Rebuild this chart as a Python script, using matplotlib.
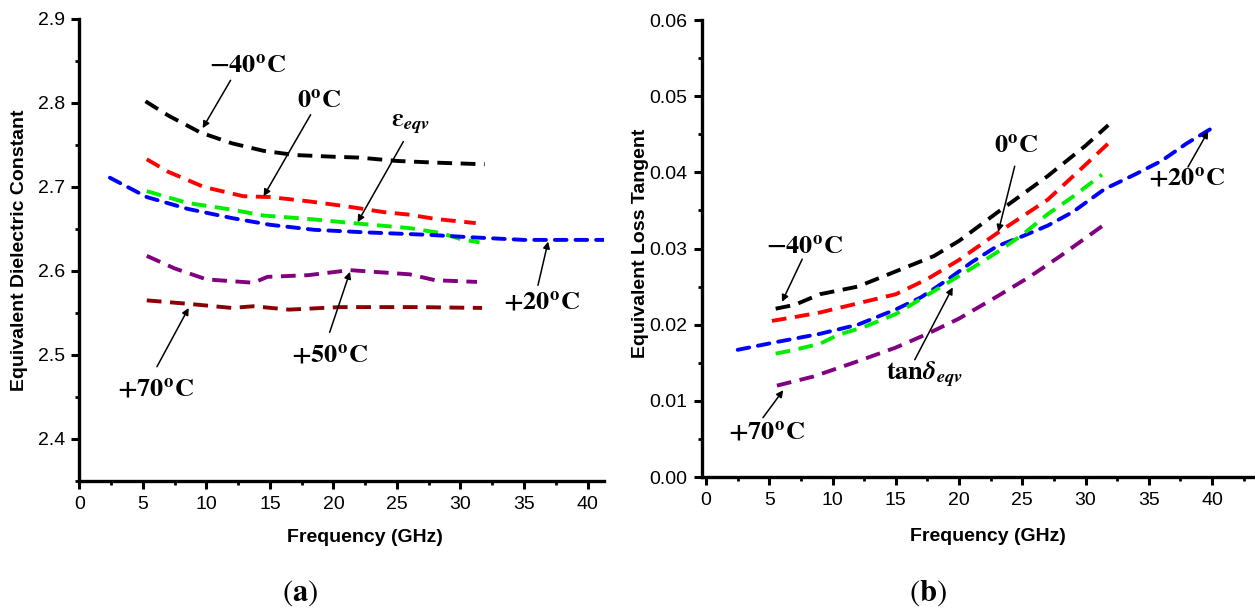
import matplotlib
matplotlib.use("Agg")
import matplotlib.pyplot as plt
from matplotlib.ticker import AutoMinorLocator, MultipleLocator, FormatStrFormatter

plt.rcParams["font.family"] = ["Liberation Sans", "DejaVu Sans"]
plt.rcParams["mathtext.fontset"] = "stix"

# ---- (a) equivalent dielectric constant ----
f_m40_a = [5.2, 7, 9.5, 12, 14.5, 17, 20, 22, 25, 28, 31.9]
e_m40 = [2.802, 2.785, 2.765, 2.752, 2.743, 2.738, 2.736, 2.735, 2.731, 2.729, 2.727]

f_0_a = [5.3, 7, 9.8, 12.9, 15, 18, 21, 24, 26, 28, 31.2]
e_0 = [2.733, 2.718, 2.700, 2.689, 2.688, 2.683, 2.677, 2.670, 2.667, 2.662, 2.657]

f_eqv_a = [5.3, 8.5, 12, 14.5, 18, 21.5, 26, 28.5, 30, 31.5]
e_eqv = [2.695, 2.681, 2.673, 2.666, 2.662, 2.657, 2.651, 2.645, 2.638, 2.634]

f_20_a = [2.4, 5.3, 8.5, 12, 15, 18.5, 22.5, 27.5, 31, 35, 41.3]
e_20 = [2.711, 2.688, 2.674, 2.663, 2.655, 2.649, 2.646, 2.643, 2.640, 2.637, 2.637]

f_50_a = [5.3, 7.5, 10, 13.7, 14.8, 18, 21.3, 26, 28, 31.3]
e_50 = [2.618, 2.603, 2.590, 2.586, 2.593, 2.595, 2.601, 2.596, 2.589, 2.587]

f_70_a = [5.3, 8.5, 12, 13.7, 16.5, 20.5, 26.5, 31.7]
e_70 = [2.565, 2.561, 2.556, 2.558, 2.554, 2.557, 2.557, 2.556]

# ---- (b) equivalent loss tangent ----
f_m40_b = [5.5, 7, 9, 12, 15, 18, 20, 23, 27, 30, 31.8]
t_m40 = [0.0221, 0.0226, 0.0240, 0.0250, 0.0270, 0.0290, 0.0310, 0.0347, 0.0395, 0.0435, 0.0462]

f_0_b = [5.2, 7, 9, 12, 15, 17.5, 20, 23, 27, 30, 31.8]
t_0 = [0.0205, 0.0210, 0.0216, 0.0228, 0.0240, 0.0260, 0.0285, 0.0320, 0.0364, 0.0410, 0.0438]

f_20_b = [2.5, 5.5, 9, 12, 15, 17, 19, 21, 23, 25, 27, 29, 31.5, 34, 36, 38, 40.4]
t_20 = [0.0167, 0.0177, 0.0188, 0.0200, 0.0220, 0.0236, 0.0258, 0.0282, 0.0303, 0.0316,
        0.0330, 0.0348, 0.0378, 0.0398, 0.0415, 0.0438, 0.0462]

f_eqv_b = [5.5, 7, 9, 10.5, 12.5, 15, 17, 19, 21, 23, 25, 27, 29, 31.3]
t_eqv = [0.0162, 0.0167, 0.0175, 0.0187, 0.0197, 0.0214, 0.0234, 0.0254, 0.0274, 0.0295,
         0.0318, 0.0345, 0.0368, 0.0397]

f_70_b = [5.6, 8.5, 12, 15, 17.5, 20, 23, 25.5, 28, 31.7]
t_70 = [0.0120, 0.0132, 0.0152, 0.0170, 0.0188, 0.0208, 0.0237, 0.0262, 0.0290, 0.0334]

dash = (0, (3.8, 2.2))
dot_dash = (0, (3.0, 2.3))
lw = 2.8


def style_axes(ax):
    for side in ["top", "right"]:
        ax.spines[side].set_visible(False)
    for side in ["left", "bottom"]:
        ax.spines[side].set_linewidth(2.4)
    ax.xaxis.set_major_locator(MultipleLocator(5))
    ax.xaxis.set_minor_locator(AutoMinorLocator(2))
    ax.yaxis.set_minor_locator(AutoMinorLocator(2))
    ax.tick_params(which="major", direction="out", length=5.5, width=2.2,
                   labelsize=14, pad=5)
    ax.tick_params(which="minor", direction="out", length=3, width=2.0)


def label(ax, x, y, s):
    ax.text(x, y, s, fontsize=19, ha="center", va="center")


def arrow(ax, start, tip):
    ax.annotate("", xy=tip, xytext=start,
                arrowprops=dict(arrowstyle="-|>", color="k", lw=1.1,
                                mutation_scale=10, shrinkA=0, shrinkB=0))


fig = plt.figure(figsize=(12.55, 6.1), dpi=100)

ax1 = fig.add_axes([0.0633, 0.2115, 0.418, 0.7574])
ax1.plot(f_m40_a, e_m40, color="black", ls=dash, lw=lw)
ax1.plot(f_0_a, e_0, color="#ff0000", ls=dash, lw=lw)
ax1.plot(f_eqv_a, e_eqv, color="#00ee00", ls=dash, lw=lw)
ax1.plot(f_20_a, e_20, color="#0000ff", ls=dot_dash, lw=lw, dash_capstyle="round")
ax1.plot(f_50_a, e_50, color="#800080", ls=dash, lw=lw)
ax1.plot(f_70_a, e_70, color="#8b0000", ls=dash, lw=lw)
ax1.set_xlim(0, 41.3)
ax1.set_ylim(2.35, 2.9)
ax1.yaxis.set_major_locator(MultipleLocator(0.1))
style_axes(ax1)
ax1.set_xlabel("Frequency (GHz)", fontsize=14, fontweight="bold")
ax1.set_ylabel("Equivalent Dielectric Constant", fontsize=14, fontweight="bold")
ax1.xaxis.set_label_coords(0.544, -0.123)
ax1.xaxis.label.set_va("center")
ax1.yaxis.set_label_coords(-0.114, 0.5)
ax1.yaxis.label.set_va("center")

label(ax1, 13.2, 2.843, r"$\mathbf{-40^{o}C}$")
arrow(ax1, (11.9, 2.827), (9.7, 2.770))
label(ax1, 18.9, 2.802, r"$\mathbf{0^{o}C}$")
arrow(ax1, (18.2, 2.786), (14.5, 2.689))
label(ax1, 26.1, 2.774, r"$\boldsymbol{\varepsilon}_{\boldsymbol{eqv}}$")
arrow(ax1, (25.5, 2.754), (21.9, 2.658))
label(ax1, 36.4, 2.562, r"$\mathbf{+20^{o}C}$")
arrow(ax1, (36.1, 2.583), (36.9, 2.635))
label(ax1, 19.7, 2.499, r"$\mathbf{+50^{o}C}$")
arrow(ax1, (19.7, 2.527), (21.3, 2.599))
label(ax1, 6.0, 2.458, r"$\mathbf{+70^{o}C}$")
arrow(ax1, (6.1, 2.486), (8.6, 2.556))

ax2 = fig.add_axes([0.5594, 0.218, 0.4406, 0.7492])
ax2.plot(f_m40_b, t_m40, color="black", ls=dash, lw=lw)
ax2.plot(f_0_b, t_0, color="#ff0000", ls=dash, lw=lw)
ax2.plot(f_20_b, t_20, color="#0000ff", ls=dot_dash, lw=lw, dash_capstyle="round")
ax2.plot(f_eqv_b, t_eqv, color="#00ee00", ls=dash, lw=lw)
ax2.plot(f_70_b, t_70, color="#800080", ls=dash, lw=lw)
ax2.set_xlim(-0.32, 43.4)
ax2.set_ylim(0, 0.06)
ax2.yaxis.set_major_locator(MultipleLocator(0.01))
ax2.yaxis.set_major_formatter(FormatStrFormatter("%.2f"))
style_axes(ax2)
ax2.set_xlabel("Frequency (GHz)", fontsize=14, fontweight="bold")
ax2.set_ylabel("Equivalent Loss Tangent", fontsize=14, fontweight="bold")
ax2.xaxis.set_label_coords(0.517, -0.131)
ax2.xaxis.label.set_va("center")
ax2.yaxis.set_label_coords(-0.112, 0.512)
ax2.yaxis.label.set_va("center")

label(ax2, 7.75, 0.0301, r"$\mathbf{-40^{o}C}$")
arrow(ax2, (7.6, 0.0286), (6.0, 0.0230))
label(ax2, 24.5, 0.0434, r"$\mathbf{0^{o}C}$")
arrow(ax2, (24.4, 0.0408), (23.1, 0.0322))
label(ax2, 17.3, 0.0134, r"$\mathbf{tan}\boldsymbol{\delta}_{\boldsymbol{eqv}}$")
arrow(ax2, (16.5, 0.0154), (19.5, 0.0249))
label(ax2, 38.0, 0.0391, r"$\mathbf{+20^{o}C}$")
arrow(ax2, (38.1, 0.0407), (39.7, 0.0454))
label(ax2, 4.8, 0.0058, r"$\mathbf{+70^{o}C}$")
arrow(ax2, (4.5, 0.0078), (6.1, 0.0114))

fig.text(300 / 1255, 1 - 593 / 610, r"$(\mathbf{a})$", fontsize=22, ha="center", va="center")
fig.text(928 / 1255, 1 - 593 / 610, r"$(\mathbf{b})$", fontsize=22, ha="center", va="center")

fig.savefig("out.png", dpi=100)
